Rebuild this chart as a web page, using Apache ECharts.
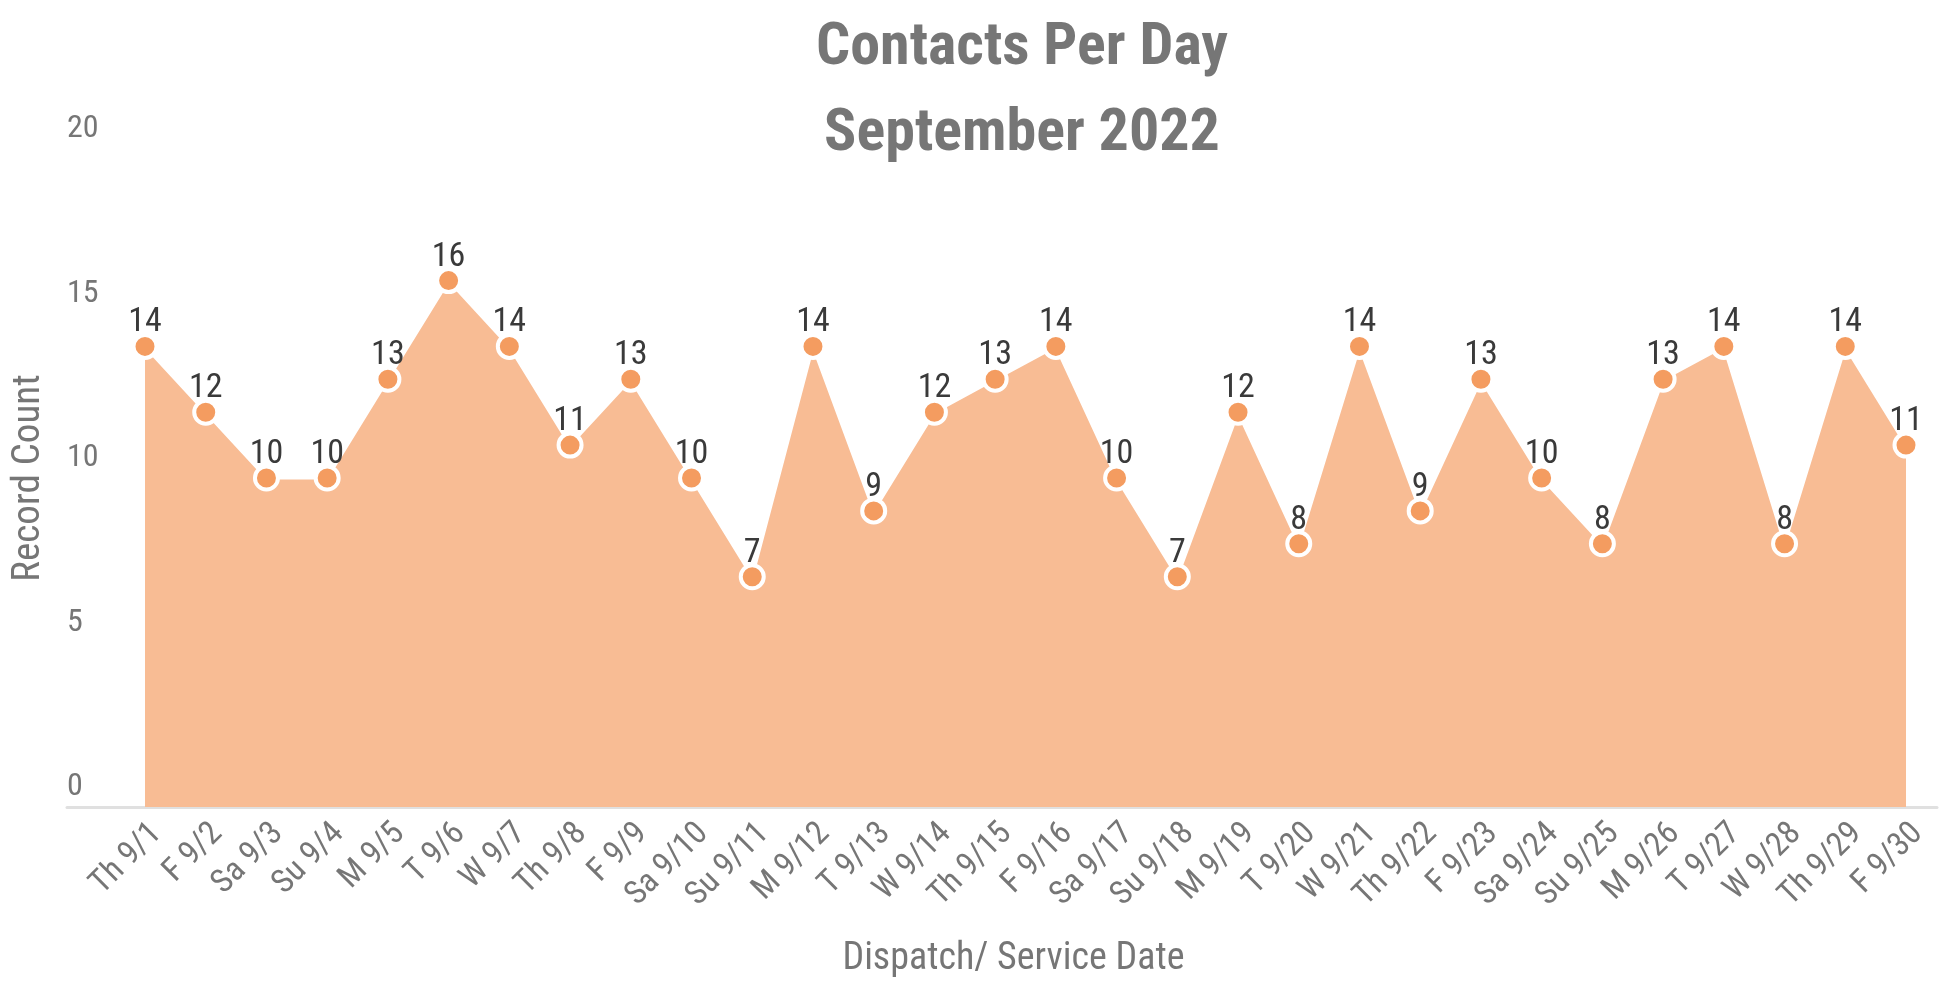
<!DOCTYPE html>
<html>
<head>
<meta charset="utf-8">
<script src="https://cdn.jsdelivr.net/npm/echarts@6/dist/echarts.min.js"></script>
<style>
html,body{margin:0;padding:0;background:#fff;}
#chart{width:1953px;height:985px;}
</style>
</head>
<body>
<div id="chart"></div>
<script>
const titleLines = ['Contacts Per Day', 'September 2022'];
const xAxisTitle = 'Dispatch/ Service Date';
const yAxisTitle = 'Record Count';
const categories = [
  'Th 9/1','F 9/2','Sa 9/3','Su 9/4','M 9/5','T 9/6','W 9/7','Th 9/8','F 9/9','Sa 9/10',
  'Su 9/11','M 9/12','T 9/13','W 9/14','Th 9/15','F 9/16','Sa 9/17','Su 9/18','M 9/19','T 9/20',
  'W 9/21','Th 9/22','F 9/23','Sa 9/24','Su 9/25','M 9/26','T 9/27','W 9/28','Th 9/29','F 9/30'
];
const recordCounts = [14,12,10,10,13,16,14,11,13,10,7,14,9,12,13,14,10,7,12,8,14,9,13,10,8,13,14,8,14,11];
const yMin = 0, yMax = 20, yStep = 5;

const FONT = "'Liberation Sans Narrow', 'Roboto Condensed', Roboto, sans-serif";
const GREY = '#767676';

const chart = echarts.init(document.getElementById('chart'), null, {renderer: 'canvas'});
chart.setOption({
  backgroundColor: '#ffffff',
  animation: false,
  title: {
    text: titleLines.join('\n'),
    left: 1017,
    top: 1,
    textAlign: 'center',
    textStyle: {
      fontFamily: FONT,
      fontWeight: 'bold',
      fontSize: 60,
      lineHeight: 86,
      color: GREY
    }
  },
  grid: [
    {left: 145, right: 47, top: 149, bottom: 178, containLabel: false},
    {left: 67, right: 16, top: 149, bottom: 178, containLabel: false}
  ],
  xAxis: [
    {
      type: 'category',
      gridIndex: 0,
      data: categories,
      boundaryGap: false,
      axisLine: {show: false},
      axisTick: {show: false},
      splitLine: {show: false},
      axisLabel: {
        interval: 0,
        rotate: 45,
        margin: 10,
        verticalAlign: 'top',
        color: GREY,
        fontFamily: FONT,
        fontSize: 33
      },
      name: xAxisTitle,
      nameLocation: 'middle',
      nameGap: 133,
      nameTextStyle: {color: GREY, fontFamily: FONT, fontSize: 38, padding: [0, 24, 0, 0]}
    },
    {
      type: 'value',
      gridIndex: 1,
      min: 0, max: 1,
      axisLine: {show: true, lineStyle: {color: '#e0e0e0', width: 3}},
      axisTick: {show: false},
      axisLabel: {show: false},
      splitLine: {show: false}
    }
  ],
  yAxis: [
    {
      type: 'value',
      gridIndex: 0,
      min: yMin, max: yMax, interval: yStep,
      axisLine: {show: false},
      axisTick: {show: false},
      splitLine: {show: false},
      axisLabel: {
        align: 'left',
        verticalAlign: 'bottom',
        margin: 78,
        padding: [0, 0, 4, 0],
        color: GREY,
        fontFamily: FONT,
        fontSize: 32
      },
      name: yAxisTitle,
      nameLocation: 'middle',
      nameGap: 96,
      nameRotate: 90,
      nameTextStyle: {color: GREY, fontFamily: FONT, fontSize: 39}
    },
    {
      type: 'value',
      gridIndex: 1,
      min: 0, max: 1,
      show: false
    }
  ],
  series: [{
    type: 'line',
    xAxisIndex: 0,
    yAxisIndex: 0,
    data: recordCounts,
    symbol: 'circle',
    symbolSize: 23,
    showAllSymbol: true,
    itemStyle: {color: '#F49C60', borderColor: '#ffffff', borderWidth: 4},
    lineStyle: {color: '#ffffff', width: 3},
    areaStyle: {color: '#F8BC94', opacity: 1},
    label: {
      show: true,
      position: 'top',
      distance: -7,
      color: '#3a3a3a',
      fontFamily: FONT,
      fontSize: 34
    },
    z: 3
  }]
});
</script>
</body>
</html>
